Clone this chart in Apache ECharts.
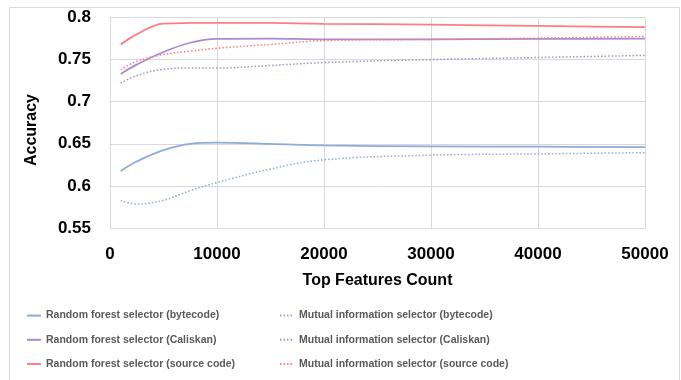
<!DOCTYPE html>
<html><head><meta charset="utf-8">
<script src="https://cdn.jsdelivr.net/npm/echarts@6/dist/echarts.min.js"></script>
<style>html,body{margin:0;padding:0;background:#fff}#c{width:681px;height:380px}</style>
</head><body><div id="c"></div>
<script>
var xValues = [1000, 2500, 5000, 7500, 10000, 15000, 20000, 30000, 40000, 50000];
var rfBytecode  = [0.6177, 0.629, 0.6425, 0.650, 0.6513, 0.650, 0.648, 0.647, 0.6465, 0.646];
var rfCaliskan  = [0.733, 0.744, 0.759, 0.770, 0.7745, 0.775, 0.774, 0.774, 0.7745, 0.775];
var rfSource    = [0.768, 0.780, 0.7928, 0.7935, 0.7937, 0.7935, 0.7925, 0.7915, 0.790, 0.7885];
var miBytecode  = [0.5825, 0.5785, 0.583, 0.5945, 0.604, 0.620, 0.631, 0.6365, 0.638, 0.6395];
var miCaliskan  = [0.722, 0.731, 0.7385, 0.740, 0.740, 0.743, 0.7465, 0.750, 0.7525, 0.755];
var miSource    = [0.738, 0.748, 0.756, 0.760, 0.7635, 0.768, 0.7725, 0.774, 0.7755, 0.7775];
var seriesNames = [
  'Random forest selector (bytecode)',
  'Random forest selector (Caliskan)',
  'Random forest selector (source code)',
  'Mutual information selector (bytecode)',
  'Mutual information selector (Caliskan)',
  'Mutual information selector (source code)'
];
var xTitle = 'Top Features Count';
var yTitle = 'Accuracy';

var colors = ['#8FAADC', '#A98AD2', '#FF7C80'];
function pairs(arr){ return xValues.map(function(x,i){ return [x, arr[i]]; }); }
function mk(name, data, color, dotted){
  return {
    name: name, type: 'line', data: pairs(data), smooth: 0.4, symbol: 'none',
    lineStyle: { color: color, width: dotted ? 1.5 : 1.75, type: dotted ? [1.5, 2] : 'solid' },
    itemStyle: { color: color }
  };
}
var lgFont = { fontFamily: 'Liberation Sans, sans-serif', fontSize: 10.5, fontWeight: 'bold', color: '#595959' };
var lgCommon = { orient: 'vertical', top: 305, itemWidth: 14, itemHeight: 14, itemGap: 13, textStyle: lgFont,
  itemStyle: { opacity: 0 } };
var chart = echarts.init(document.getElementById('c'), null, { renderer: 'canvas' });
chart.setOption({
  animation: false,
  color: colors,
  grid: { left: 110, right: 36, top: 17.5, bottom: 152 },
  xAxis: {
    type: 'value', min: 0, max: 50000, interval: 10000,
    axisLine: { show: true, lineStyle: { color: '#d9d9d9' } },
    axisTick: { show: false },
    splitLine: { show: true, lineStyle: { color: '#d9d9d9', width: 1 } },
    axisLabel: { margin: 18, color: '#000', fontWeight: 'bold', fontSize: 17, fontFamily: 'Liberation Sans',
      formatter: function(v){ return String(v); } }
  },
  yAxis: {
    type: 'value', min: 0.55, max: 0.8, interval: 0.05,
    axisLine: { show: true, lineStyle: { color: '#d9d9d9' } },
    axisTick: { show: false },
    splitLine: { show: true, lineStyle: { color: '#d9d9d9', width: 1 } },
    axisLabel: { margin: 19, color: '#000', fontWeight: 'bold', fontSize: 17, fontFamily: 'Liberation Sans',
      formatter: function(v){ return String(+v.toFixed(2)); } }
  },
  legend: [
    Object.assign({ left: 21, data: seriesNames.slice(0,3) }, lgCommon),
    Object.assign({ left: 274, data: seriesNames.slice(3,6) }, lgCommon)
  ],
  graphic: [
    { type: 'rect', left: 7, top: 5, shape: { width: 670, height: 380 }, style: { fill: 'none', stroke: '#d9d9d9', lineWidth: 1 }, silent: true, z: -1 },
    { type: 'text', x: 377.5, y: 281, style: { text: xTitle, fontFamily: 'Liberation Sans', fontWeight: 'bold', fontSize: 16, fill: '#000', align: 'center', verticalAlign: 'middle' } },
    { type: 'text', x: 32, y: 130, rotation: Math.PI/2, style: { text: yTitle, fontFamily: 'Liberation Sans', fontWeight: 'bold', fontSize: 16, fill: '#000', align: 'center', verticalAlign: 'middle' } }
  ],
  series: [
    mk(seriesNames[0], rfBytecode, colors[0], false),
    mk(seriesNames[1], rfCaliskan, colors[1], false),
    mk(seriesNames[2], rfSource, colors[2], false),
    mk(seriesNames[3], miBytecode, colors[0], true),
    mk(seriesNames[4], miCaliskan, colors[1], true),
    mk(seriesNames[5], miSource, colors[2], true)
  ]
});
</script></body></html>
